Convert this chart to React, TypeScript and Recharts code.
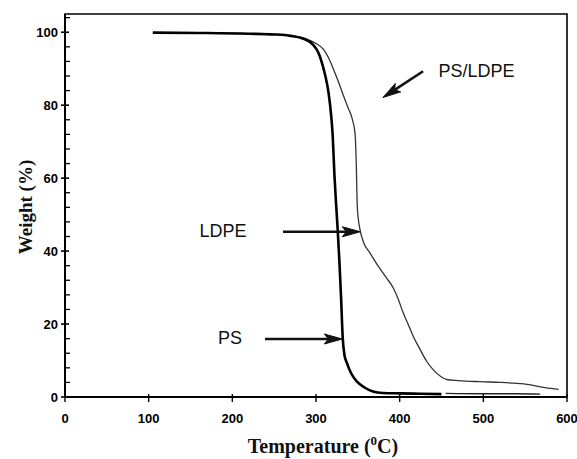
import React from "react";
import {
  LineChart,
  Line,
  XAxis,
  YAxis,
  ReferenceArea,
  ReferenceLine,
  ReferenceDot,
} from "recharts";

// thermogravimetric curves, temperature in °C, weight in %
const psTemp = [105, 160, 220, 250, 270, 285, 296, 303, 307, 311, 315, 318, 320, 322, 324, 326, 328, 330, 332, 334, 337, 342, 349, 358, 368, 380, 400, 425, 450];
const psWeight = [99.9, 99.8, 99.6, 99.4, 99.0, 98.2, 96.7, 94.3, 91.7, 88.2, 83.4, 77.5, 71.5, 61, 53, 45.5, 37, 27, 16, 11.5, 9.3, 6.5, 4.2, 2.6, 1.5, 1.1, 1.0, 0.9, 0.8];

const ldpeTemp = [105, 160, 220, 250, 270, 289, 300, 309, 315, 321, 327, 333, 338, 343, 346.6, 348.3, 349.2, 350.5, 352.6, 357, 364.5, 374, 384.4, 392.4, 398, 404.3, 410, 416.3, 424, 432.2, 440, 448, 456, 470, 496, 520, 536, 555, 568, 590];
const ldpeWeight = [99.9, 99.8, 99.6, 99.4, 99.0, 98.1, 96.9, 95.3, 93.0, 89.8, 86.3, 82.5, 79.5, 76.5, 72.4, 62.4, 53, 49, 45.9, 42.3, 39.5, 36, 32.6, 29.9, 27, 23.0, 20, 16.6, 13.2, 9.8, 7.5, 5.8, 4.8, 4.5, 4.2, 4.0, 3.8, 3.4, 2.8, 2.1];

const residueTemp = [455, 500, 540, 568];
const residueWeight = [1.0, 0.9, 0.9, 0.8];

const xTicks = [0, 100, 200, 300, 400, 500, 600];
const yMajorTicks = [0, 20, 40, 60, 80, 100];
const yTicks = [0, 4, 8, 12, 16, 20, 24, 28, 32, 36, 40, 44, 48, 52, 56, 60, 64, 68, 72, 76, 80, 84, 88, 92, 96, 100, 104];

// arrow annotations (data coordinates)
const arrowNames = ["PS/LDPE", "LDPE", "PS"];
const arrowFrom = [[428, 89.3], [260.5, 45.3], [239, 15.9]];
const arrowTo = [[380, 82.1], [353, 45.3], [331.5, 15.9]];
const labelAt = [[491.8, 89.4], [188.8, 45.5], [197.2, 16.1]];

const toPoints = (xs: number[], ys: number[]) => xs.map((t, i) => ({ t, w: ys[i] }));
const psData = toPoints(psTemp, psWeight);
const ldpeData = toPoints(ldpeTemp, ldpeWeight);
const residueData = toPoints(residueTemp, residueWeight);

const sans = "'Liberation Sans', Arial, sans-serif";
const serif = "'Liberation Serif', 'Times New Roman', serif";

// plot box edges in px (margin.left + y axis width, height - margin.bottom - x axis height)
const AXIS_X = 65;
const AXIS_Y = 397;

const renderYTick = (props: any) => {
  const { y, payload } = props;
  const major = yMajorTicks.includes(payload.value);
  return (
    <g key={`yt-${payload.value}`}>
      {major ? (
        <line x1={AXIS_X - 4} x2={AXIS_X + 4} y1={y} y2={y} stroke="#000" strokeWidth={1.6} />
      ) : (
        <line x1={AXIS_X} x2={AXIS_X + 5} y1={y} y2={y} stroke="#000" strokeWidth={1.3} />
      )}
      {major && (
        <text x={AXIS_X - 7} y={y} textAnchor="end" dominantBaseline="central" fontFamily={sans} fontWeight={700} fontSize={13} fill="#000" stroke="none">
          {payload.value}
        </text>
      )}
    </g>
  );
};

const renderXTick = (props: any) => {
  const { x, payload } = props;
  return (
    <g key={`xt-${payload.value}`}>
      <line x1={x} x2={x} y1={AXIS_Y - 3} y2={AXIS_Y + 5} stroke="#000" strokeWidth={1.4} />
      <text x={x} y={AXIS_Y + 21} textAnchor="middle" dominantBaseline="central" fontFamily={sans} fontWeight={700} fontSize={13} fill="#000" stroke="none">
        {payload.value}
      </text>
    </g>
  );
};

function Arrow(props: any) {
  const { x1, y1, x2, y2 } = props;
  const dx = x2 - x1;
  const dy = y2 - y1;
  const len = Math.sqrt(dx * dx + dy * dy);
  const ux = dx / len;
  const uy = dy / len;
  const hl = 18;
  const hw = 5;
  const bx = x2 - ux * hl;
  const by = y2 - uy * hl;
  const head = `${x2},${y2} ${bx - uy * hw},${by + ux * hw} ${bx + ux * 4},${by + uy * 4} ${bx + uy * hw},${by - ux * hw}`;
  return (
    <g>
      <line x1={x1} y1={y1} x2={bx + ux * 4} y2={by + uy * 4} stroke="#111" strokeWidth={2.6} />
      <polygon points={head} fill="#111" stroke="#111" strokeWidth={1} />
    </g>
  );
}

export default function App() {
  return (
    <div style={{ position: "absolute", left: 0, top: 0, background: "#fff" }}>
      <LineChart width={577} height={459} margin={{ top: 14, right: 10, bottom: 22, left: 15 }}>
        <XAxis
          dataKey="t"
          type="number"
          domain={[0, 600]}
          ticks={xTicks}
          interval={0}
          tickLine={false}
          tickSize={0}
          tickMargin={0}
          height={40}
          axisLine={{ stroke: "#000", strokeWidth: 2 }}
          tick={renderXTick}
          label={{
            content: () => (
              <text x={323} y={446} textAnchor="middle" dominantBaseline="central" fontFamily={serif} fontWeight="bold" fontSize={20} fill="#111">
                Temperature (
                <tspan dy={-6} fontSize={13}>0</tspan>
                <tspan dy={6}>C)</tspan>
              </text>
            ),
          }}
        />
        <YAxis
          dataKey="w"
          type="number"
          domain={[0, 105]}
          ticks={yTicks}
          interval={0}
          width={50}
          tickLine={false}
          tickSize={0}
          tickMargin={0}
          axisLine={{ stroke: "#000", strokeWidth: 2 }}
          tick={renderYTick}
          label={{
            content: () => (
              <text transform="translate(25,207) rotate(-90)" textAnchor="middle" dominantBaseline="central" fontFamily={serif} fontWeight="bold" fontSize={19} fill="#111">
                Weight (%)
              </text>
            ),
          }}
        />
        <ReferenceArea x1={0} x2={600} y1={0} y2={105} fill="none" stroke="#000" strokeWidth={1.6} />
        <Line data={ldpeData} dataKey="w" type="monotone" stroke="#333" strokeWidth={1.3} dot={false} isAnimationActive={false} />
        <Line data={psData} dataKey="w" type="monotone" stroke="#000" strokeWidth={2.6} dot={false} isAnimationActive={false} />
        <Line data={residueData} dataKey="w" type="monotone" stroke="#222" strokeWidth={1.4} dot={false} isAnimationActive={false} />
        {arrowNames.map((name, i) => (
          <ReferenceLine
            key={`arrow-${name}`}
            segment={[
              { x: arrowFrom[i][0], y: arrowFrom[i][1] },
              { x: arrowTo[i][0], y: arrowTo[i][1] },
            ]}
            shape={<Arrow />}
          />
        ))}
        {arrowNames.map((name, i) => (
          <ReferenceDot
            key={`label-${name}`}
            x={labelAt[i][0]}
            y={labelAt[i][1]}
            r={0}
            shape={(p: any) => (
              <text x={p.cx} y={p.cy} textAnchor="middle" dominantBaseline="central" fontFamily={sans} fontSize={18} fill="#111">
                {name}
              </text>
            )}
          />
        ))}
      </LineChart>
    </div>
  );
}
